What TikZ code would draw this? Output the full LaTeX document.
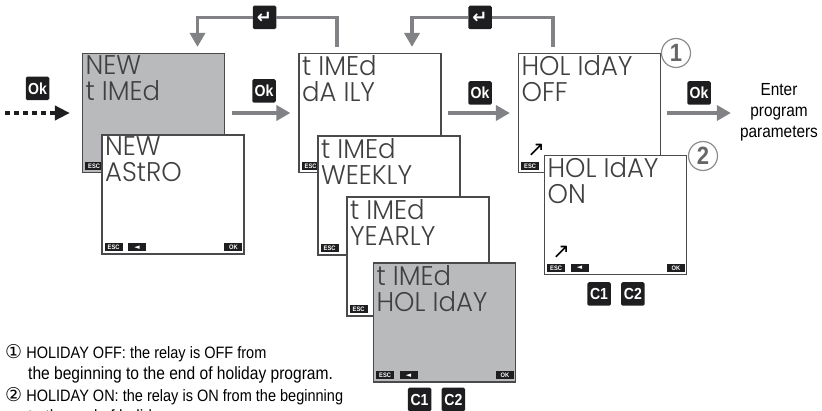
\documentclass[tikz,border=0pt]{standalone}
\usepackage{fontspec}
\setmainfont[FakeStretch=0.88]{Liberation Sans}
\newfontfamily\lcdfont[FakeStretch=0.96]{Poppins Light}
\newfontfamily\symfont{DejaVu Sans}
\usetikzlibrary{shapes,arrows,arrows.meta,positioning}

\definecolor{lcdgray}{HTML}{B9BABC}
\definecolor{flowgray}{HTML}{808285}
\definecolor{framegray}{HTML}{4A4A4C}
\definecolor{keyblack}{HTML}{1E1E20}

\begin{document}
\begin{tikzpicture}[x=1pt,y=-1pt]
            % Estilos
            \tikzstyle{screen}=[draw=framegray, line width=1.2pt, rectangle, minimum height=119pt, minimum width=142pt, fill=white, inner sep=0pt]
            \tikzstyle{lcd}=[inner sep=0pt, align=left, text=black!75, font=\lcdfont\fontsize{27}{26}\selectfont]
            \tikzstyle{softkey}=[rectangle, fill=keyblack, text=white, minimum height=8pt, minimum width=18pt, inner sep=0pt, font=\bfseries\fontsize{6.5}{6.5}\selectfont]
            \tikzstyle{hardkey}=[rectangle, rounded corners=1.5pt, fill=keyblack, text=white, minimum size=23.5pt, inner sep=0pt, font=\bfseries\fontsize{16}{16}\selectfont]
            \tikzstyle{marker}=[draw=black!45, line width=1.2pt, circle, minimum size=29pt, inner sep=0pt, fill=white, text=black!60, font=\bfseries\fontsize{25}{25}\selectfont]
            \tikzstyle{flow}=[draw=flowgray, line width=3.5pt]
            \tikzstyle{arrow}=[-{Triangle[length=14pt,width=15pt]}, flow]
            \tikzstyle{inarrow}=[-{Triangle[length=15pt,width=14pt]}, draw=keyblack, line width=4pt, dash pattern=on 5pt off 4pt]
            \tikzstyle{sign}=[inner sep=0pt, font=\symfont\fontsize{21}{21}\selectfont]
            \useasboundingbox (0,0) rectangle (822,411);

            % Pantallas NEW
            \node[screen, fill=lcdgray] (timed) at (153.5,113) {};
            \node[lcd, below right=2.5pt and 3.5pt of timed.north west] (timedtext) {NEW\\t IMEd};
            \node[softkey, above right=3pt and 3pt of timed.south west] (timedesc) {ESC};

            \node[screen] (astro) at (173,194.5) {};
            \node[lcd, below right=2.5pt and 3.5pt of astro.north west] (astrotext) {NEW\\AStRO};
            \node[softkey, above right=3pt and 3pt of astro.south west] (astroesc) {ESC};
            \node[softkey, right=5pt of astroesc, font=\symfont\fontsize{7}{7}\selectfont] (astroback) {◄};
            \node[softkey, above left=3pt and 2pt of astro.south east] (astrook) {OK};

            % Pantallas t IMEd
            \node[screen] (daily) at (370,113) {};
            \node[lcd, below right=2.5pt and 3.5pt of daily.north west] (dailytext) {t IMEd\\dA ILY};
            \node[softkey, above right=3pt and 3pt of daily.south west] (dailyesc) {ESC};

            \node[screen] (weekly) at (389,195.5) {};
            \node[lcd, below right=2.5pt and 3.5pt of weekly.north west] (weeklytext) {t IMEd\\WEEKLY};
            \node[softkey, above right=3pt and 3pt of weekly.south west] (weeklyesc) {ESC};

            \node[screen] (yearly) at (418,256.5) {};
            \node[lcd, below right=2.5pt and 3.5pt of yearly.north west] (yearlytext) {t IMEd\\YEARLY};
            \node[softkey, above right=3pt and 3pt of yearly.south west] (yearlyesc) {ESC};

            \node[screen, fill=lcdgray] (holiday) at (444.5,322.5) {};
            \node[lcd, below right=2.5pt and 3.5pt of holiday.north west] (holidaytext) {t IMEd\\HOL IdAY};
            \node[softkey, above right=3pt and 3pt of holiday.south west] (holidayesc) {ESC};
            \node[softkey, right=5pt of holidayesc, font=\symfont\fontsize{7}{7}\selectfont] (holidayback) {◄};
            \node[softkey, above left=3pt and 2pt of holiday.south east] (holidayok) {OK};
            \node[hardkey] (holidayc1) at (419.5,399.5) {C1};
            \node[hardkey, right=10pt of holidayc1] (holidayc2) {C2};

            % Pantallas HOL IdAY
            \node[screen] (off) at (589.5,113) {};
            \node[lcd, below right=2.5pt and 3.5pt of off.north west] (offtext) {HOL IdAY\\OFF};
            \node[softkey, above right=3pt and 3pt of off.south west] (offesc) {ESC};
            \node[sign, above=5pt of offesc, xshift=6pt] (offsign) {↗};

            \node[screen] (on) at (615.5,215) {};
            \node[lcd, below right=2.5pt and 3.5pt of on.north west] (ontext) {HOL IdAY\\ON};
            \node[softkey, above right=3pt and 3pt of on.south west] (onesc) {ESC};
            \node[softkey, right=5pt of onesc, font=\symfont\fontsize{7}{7}\selectfont] (onback) {◄};
            \node[softkey, above left=3pt and 2pt of on.south east] (onok) {OK};
            \node[sign, above=5pt of onesc, xshift=5pt] (onsign) {↗};
            \node[hardkey] (onc1) at (599,294) {C1};
            \node[hardkey, right=10pt of onc1] (onc2) {C2};

            \node[marker] (mark1) at (676,53) {1};
            \node[marker] (mark2) at (703,156) {2};

            % Teclas
            \node[hardkey] (okin) at (37.5,88.5) {Ok};
            \node[hardkey] (oktimed) at (264,91) {Ok};
            \node[hardkey] (okdaily) at (480,93) {Ok};
            \node[hardkey] (okoff) at (699,93) {Ok};
            \node[hardkey, font=\symfont\bfseries\fontsize{18}{18}\selectfont] (enter1) at (264.5,17.5) {↵};
            \node[hardkey, font=\symfont\bfseries\fontsize{18}{18}\selectfont] (enter2) at (480,17.5) {↵};

            \node[align=center, inner sep=0pt, font=\fontsize{17.5}{21}\selectfont] (params) at (779,112) {Enter\\program\\parameters};
            \coordinate (start) at (5,113);

            % Flechas
            \draw[inarrow, shorten >=12pt] (start) -- (timed.west);
            \draw[arrow, shorten <=7pt, shorten >=8pt] (timed.east) -- (daily.west);
            \draw[arrow, shorten <=6pt, shorten >=8pt] (daily.east) -- (off.west);
            \draw[arrow, shorten <=6pt, shorten >=9pt] (off.east) -- (params.west |- off.east);

            \draw[flow, shorten <=6pt] ([xshift=-33pt]daily.north) |- (enter1.east);
            \draw[arrow, shorten >=6pt] (enter1.west) -| ([xshift=44pt]timed.north);
            \draw[flow, shorten <=6pt] ([xshift=-36.5pt]off.north) |- (enter2.east);
            \draw[arrow, shorten >=6pt] (enter2.west) -| ([xshift=42pt]daily.north);

            % Notas
            \node[anchor=north west, align=left, inner sep=0pt, font=\fontsize{16.5}{21.5}\selectfont] (notes) at (5,344) {{\symfont\fontsize{19}{19}\selectfont ①} HOLIDAY OFF: the relay is OFF from\\
            \hspace*{23pt}{\fontsize{17.7}{21.5}\selectfont the beginning to the end of holiday program.}\\
            {\symfont\fontsize{19}{19}\selectfont ②} HOLIDAY ON: the relay is ON from the beginning\\
            \hspace*{23pt}{\fontsize{17.7}{21.5}\selectfont to the end of holiday}};
\end{tikzpicture}
\end{document}
